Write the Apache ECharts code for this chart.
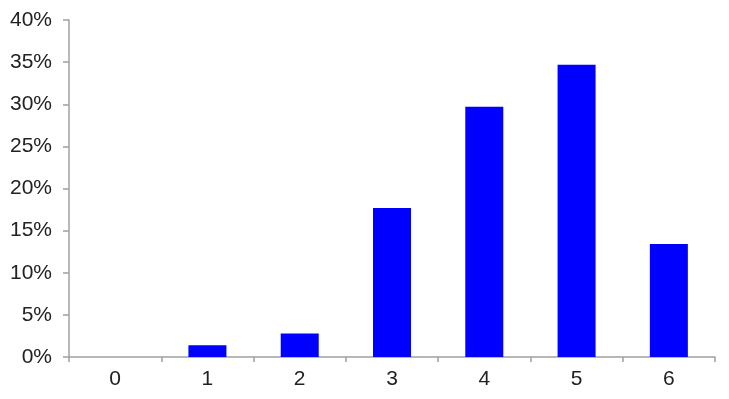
<!DOCTYPE html>
<html><head><meta charset="utf-8">
<script src="https://cdn.jsdelivr.net/npm/echarts@6/dist/echarts.min.js"></script>
<style>html,body{margin:0;padding:0;background:#fff}#c{width:729px;height:399px}</style>
</head><body><div id="c"></div>
<script>
const categories = ['0','1','2','3','4','5','6'];
const values = [0, 1.4, 2.8, 17.7, 29.7, 34.7, 13.4];
const yTicks = [0, 5, 10, 15, 20, 25, 30, 35, 40];

const chart = echarts.init(document.getElementById('c'), null, {renderer:'canvas'});
const axisColor = '#a0a0a0';
chart.setOption({
  animation: false,
  grid: {left: 69, right: 14, top: 20, bottom: 42},
  xAxis: {
    type: 'category', data: categories, boundaryGap: true,
    axisLine: {lineStyle: {color: axisColor, width: 1.5}},
    axisTick: {show: true, length: 5, alignWithLabel: false, lineStyle: {color: axisColor, width: 1.5}},
    axisLabel: {color: '#222', fontFamily: 'Liberation Sans, Arial', fontSize: 21, margin: 12}
  },
  yAxis: {
    type: 'value', min: yTicks[0], max: yTicks[yTicks.length-1], interval: 5,
    axisLine: {show: true, lineStyle: {color: axisColor, width: 1.5}},
    axisTick: {show: true, length: 6, lineStyle: {color: axisColor, width: 1.5}},
    splitLine: {show: false},
    axisLabel: {color: '#222', fontFamily: 'Liberation Sans, Arial', fontSize: 21, margin: 17, formatter: v => v + '%'}
  },
  series: [{
    type: 'bar', data: values, barWidth: 38,
    itemStyle: {color: '#0000ff', borderWidth: 0}
  }]
});
</script></body></html>
